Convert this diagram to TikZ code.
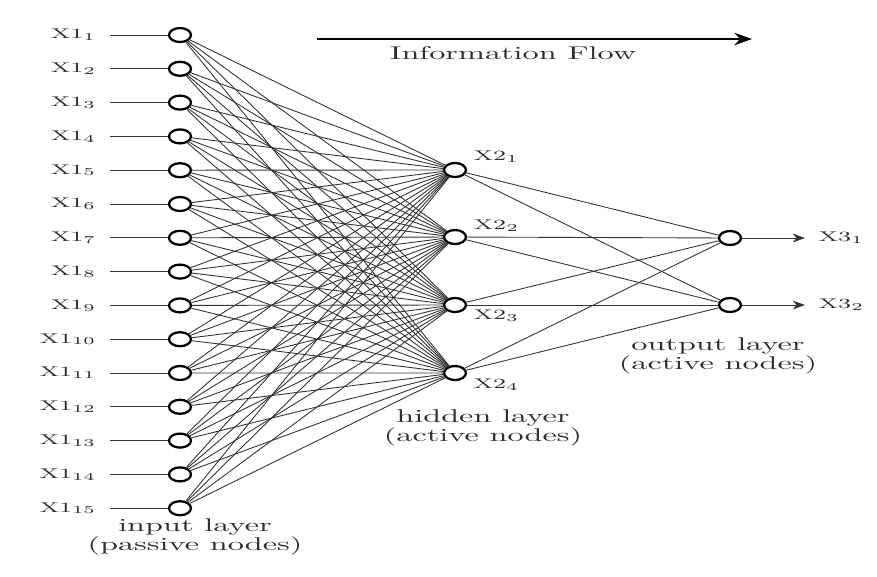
\documentclass[tikz,border=0pt]{standalone}
\usepackage{tikz}
\usetikzlibrary{positioning,arrows.meta,shapes.geometric}
\definecolor{nnLine}{HTML}{333333}
\definecolor{nnText}{HTML}{2E2E2E}

\begin{document}
\begin{tikzpicture}[x=0.02cm, y=-0.02cm,
  neuron/.style={ellipse, draw=black, line width=1.3pt, minimum width=0.44cm, minimum height=0.28cm, inner sep=0pt},
  wide/.style={transform shape, xscale=1.75, text=nnText},
  lbl/.style={wide, font=\fontsize{8}{9}\selectfont, inner sep=1pt},
  layertext/.style={wide, font=\fontsize{10.5}{10}\selectfont, align=center},
  link/.style={nnLine, line width=0.5pt}]
\useasboundingbox (0,0) rectangle (877,576);

% input layer
\foreach \n in {1,...,15} {
  \pgfmathsetmacro{\yy}{35+(\n-1)*33.8}
  \node[neuron] (i\n) at (180,\yy) {};
  \node[lbl, anchor=east] (l\n) at (100,\yy) {$\mathrm{X1}_{\n}$};
  \draw[link] (l\n.east |- i\n.west) ++(10,0) -- (i\n.west);
}

% hidden layer
\node[neuron] (h1) at (455,170) {};
\node[neuron] (h2) at (455,237) {};
\node[neuron] (h3) at (455,305) {};
\node[neuron] (h4) at (455,373) {};
\node[lbl, anchor=west] (hl1) at (470,157) {$\mathrm{X2}_{1}$};
\node[lbl, anchor=west] (hl2) at (470,226) {$\mathrm{X2}_{2}$};
\node[lbl, anchor=west] (hl3) at (470,316) {$\mathrm{X2}_{3}$};
\node[lbl, anchor=west] (hl4) at (470,385) {$\mathrm{X2}_{4}$};

% output layer
\node[neuron] (o1) at (730,238) {};
\node[neuron] (o2) at (730,305) {};
\coordinate (e1) at (805,238);
\coordinate (e2) at (805,305);
\node[lbl, anchor=west] (ol1) at (815,238) {$\mathrm{X3}_{1}$};
\node[lbl, anchor=west] (ol2) at (815,305) {$\mathrm{X3}_{2}$};

% weights
\foreach \n in {1,...,15}
  \foreach \h in {1,...,4}
    \draw[link] (i\n) -- (h\h);
\foreach \h in {1,...,4}
  \foreach \o in {1,2}
    \draw[link] (h\h) -- (o\o);
\draw[link, -{Stealth[length=7pt, width=5pt]}] (o1) -- (e1);
\draw[link, -{Stealth[length=7pt, width=5pt]}] (o2) -- (e2);

% information flow
\coordinate (fa) at (317,39);
\coordinate (fb) at (752,39);
\draw[line width=1.6pt, -{Stealth[length=10pt, width=7pt]}] (fa) -- (fb);
\node[layertext] (flow) at (513,53) {Information Flow};

% captions
\node[layertext] (cin) at (195,537) {input layer\\(passive nodes)};
\node[layertext] (chid) at (483,428) {hidden layer\\(active nodes)};
\node[layertext] (cout) at (718,356) {output layer\\(active nodes)};
\end{tikzpicture}
\end{document}
